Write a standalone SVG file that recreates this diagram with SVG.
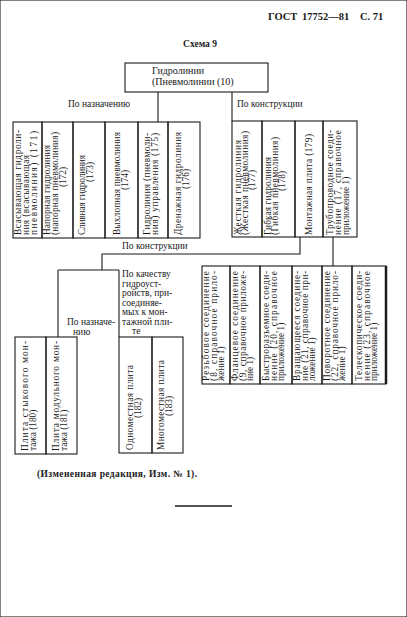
<svg xmlns="http://www.w3.org/2000/svg" width="407" height="617" viewBox="0 0 407 617">
<style>
text{font-family:"Liberation Serif","DejaVu Serif",serif;fill:#1a1a1a}
.hdr{font-size:10.5px;font-weight:bold}
.ttl{font-size:9.5px;font-weight:bold}
.lbl{font-size:9.5px}
.c{font-size:9.3px}
.m{text-anchor:middle}
rect,.ln{fill:none;stroke:#1a1a1a;stroke-width:1.1}
</style>
<rect x="0" y="0" width="407" height="617" fill="#fff" stroke="none"/>

<g id="header">
<text class="hdr" y="20"><tspan x="268">ГОСТ</tspan><tspan x="302">17752—81</tspan><tspan x="360">С. 71</tspan></text>
<text class="ttl m" x="200" y="47">Схема 9</text>
</g>

<g id="connectors">
<line class="ln" x1="158" y1="92" x2="158" y2="122"/>
<line class="ln" x1="232" y1="92" x2="232" y2="121"/>
<polyline class="ln" points="300,237 300,254 102,254 102,270"/>
<line class="ln" x1="58" y1="270" x2="119" y2="270"/>
<line class="ln" x1="58" y1="270" x2="58" y2="337"/>
<line class="ln" x1="119" y1="270" x2="119" y2="337"/>
<line class="ln" x1="333" y1="237" x2="333" y2="266"/>
<text class="lbl" x="68" y="107">По назначению</text>
<text class="lbl" x="237" y="107">По конструкции</text>
<text class="lbl" x="122" y="249">По конструкции</text>
<text class="lbl" x="67" y="325">По назначе-</text>
<text class="lbl" x="73" y="335">нию</text>
<text class="lbl" x="122"><tspan x="122" y="277">По качеству</tspan><tspan x="122" y="286.5">гидроуст-</tspan><tspan x="122" y="296">ройств, при-</tspan><tspan x="122" y="305.5">соединяе-</tspan><tspan x="122" y="315">мых  к мон-</tspan><tspan x="122" y="324.5">тажной пли-</tspan><tspan x="132" y="334">те</tspan></text>
</g>

<g id="n10">
<rect x="125" y="63" width="143" height="29"/>
<text class="lbl" x="152" y="74" style="font-size:10px">Гидролинии</text>
<text class="lbl" x="152" y="85" style="font-size:10px">(Пневмолинии  (10)</text>
</g>

<g id="n171">
<rect x="13" y="122" width="29" height="116"/>
<text class="c" transform="translate(21,235) rotate(-90)" textLength="105" lengthAdjust="spacing">Всасывающая гидроли-</text>
<text class="c" transform="translate(29,235) rotate(-90)" textLength="80" lengthAdjust="spacing">ния (всасывающая</text>
<text class="c" transform="translate(37,235) rotate(-90)" textLength="104" lengthAdjust="spacing">пневмолиния) (171)</text>
</g>
<g id="n172">
<rect x="42" y="122" width="31" height="116"/>
<text class="c" transform="translate(50,235) rotate(-90)" textLength="90" lengthAdjust="spacing">Напорная гидролиния</text>
<text class="c" transform="translate(58,235) rotate(-90)" textLength="103" lengthAdjust="spacing">(напорная пневмолиния)</text>
<text class="c m" transform="translate(66,177) rotate(-90)">(172)</text>
</g>
<g id="n173">
<rect x="73" y="122" width="32" height="116"/>
<text class="c" transform="translate(85,235) rotate(-90)" textLength="80" lengthAdjust="spacing">Сливная гидролиния</text>
<text class="c m" transform="translate(93,172) rotate(-90)">(173)</text>
</g>
<g id="n174">
<rect x="105" y="122" width="33" height="116"/>
<text class="c" transform="translate(120,235) rotate(-90)" textLength="103" lengthAdjust="spacing">Выхлопная пневмолиния</text>
<text class="c m" transform="translate(128,180) rotate(-90)">(174)</text>
</g>
<g id="n175">
<rect x="138" y="122" width="30" height="116"/>
<text class="c" transform="translate(150,235) rotate(-90)" textLength="102" lengthAdjust="spacing">Гидролиния  (пневмоли-</text>
<text class="c" transform="translate(158,235) rotate(-90)" textLength="102" lengthAdjust="spacing">ния) управления (175)</text>
</g>
<g id="n176">
<rect x="168" y="122" width="32" height="116"/>
<text class="c" transform="translate(181,235) rotate(-90)" textLength="103" lengthAdjust="spacing">Дренажная гидролиния</text>
<text class="c m" transform="translate(189,179) rotate(-90)">(176)</text>
</g>

<g id="n177">
<rect x="232" y="121" width="30" height="116"/>
<text class="c" transform="translate(241,235) rotate(-90)" textLength="95" lengthAdjust="spacing">Жесткая гидролиния</text>
<text class="c" transform="translate(248,235) rotate(-90)" textLength="104" lengthAdjust="spacing">(Жесткая пневмолиния)</text>
<text class="c m" transform="translate(255,180) rotate(-90)">(177)</text>
</g>
<g id="n178">
<rect x="262" y="121" width="33" height="116"/>
<text class="c" transform="translate(271,235) rotate(-90)" textLength="78" lengthAdjust="spacing">Гибкая гидролиния</text>
<text class="c" transform="translate(278,235) rotate(-90)" textLength="98" lengthAdjust="spacing">(Гибкая пневмолиния)</text>
<text class="c m" transform="translate(285,181) rotate(-90)">(178)</text>
</g>
<g id="n179">
<rect x="295" y="121" width="28" height="116"/>
<text class="c" transform="translate(312,235) rotate(-90)" textLength="101" lengthAdjust="spacing">Монтажная плита  (179)</text>
</g>
<g id="n17">
<rect x="323" y="121" width="34" height="116"/>
<text class="c" transform="translate(333,235) rotate(-90)" textLength="105" lengthAdjust="spacing">Трубопроводное соеди-</text>
<text class="c" transform="translate(341,235) rotate(-90)" textLength="105" lengthAdjust="spacing">нение (17, справочное</text>
<text class="c" transform="translate(349,235) rotate(-90)">приложение 1)</text>
</g>

<g id="n8">
<rect x="202" y="266" width="28" height="118"/>
<text class="c" transform="translate(209,381) rotate(-90)" textLength="110" lengthAdjust="spacing">Резьбовое соединение</text>
<text class="c" transform="translate(216.5,381) rotate(-90)" textLength="110" lengthAdjust="spacing">(8, справочное прило-</text>
<text class="c" transform="translate(224,381) rotate(-90)">жение 1)</text>
</g>
<g id="n9">
<rect x="230" y="266" width="30" height="118"/>
<text class="c" transform="translate(238,381) rotate(-90)" textLength="110" lengthAdjust="spacing">Фланцевое соединение</text>
<text class="c" transform="translate(245.5,381) rotate(-90)" textLength="110" lengthAdjust="spacing">(9, справочное приложе-</text>
<text class="c" transform="translate(253,381) rotate(-90)">ние 1)</text>
</g>
<g id="n20">
<rect x="260" y="266" width="32" height="118"/>
<text class="c" transform="translate(269,381) rotate(-90)" textLength="110" lengthAdjust="spacing">Быстроразъемное соеди-</text>
<text class="c" transform="translate(276.5,381) rotate(-90)" textLength="110" lengthAdjust="spacing">нение (20, справочное</text>
<text class="c" transform="translate(284,381) rotate(-90)">приложение 1)</text>
</g>
<g id="n21">
<rect x="292" y="266" width="30" height="118"/>
<text class="c" transform="translate(300,381) rotate(-90)" textLength="110" lengthAdjust="spacing">Вращающееся соедине-</text>
<text class="c" transform="translate(307.5,381) rotate(-90)" textLength="110" lengthAdjust="spacing">ние (21, справочное при-</text>
<text class="c" transform="translate(315,381) rotate(-90)">ложение 1)</text>
</g>
<g id="n22">
<rect x="322" y="266" width="30" height="118"/>
<text class="c" transform="translate(330,381) rotate(-90)" textLength="110" lengthAdjust="spacing">Поворотное соединение</text>
<text class="c" transform="translate(337.5,381) rotate(-90)" textLength="110" lengthAdjust="spacing">(22, справочное прило-</text>
<text class="c" transform="translate(345,381) rotate(-90)">жение 1)</text>
</g>
<g id="n23">
<rect x="352" y="266" width="34" height="118"/>
<line class="ln" x1="386" y1="266" x2="386" y2="384" style="stroke-width:2.5"/>
<text class="c" transform="translate(362,381) rotate(-90)" textLength="110" lengthAdjust="spacing">Телескопическое соеди-</text>
<text class="c" transform="translate(369.5,381) rotate(-90)" textLength="110" lengthAdjust="spacing">нение (23, справочное</text>
<text class="c" transform="translate(377,381) rotate(-90)">приложение 1)</text>
</g>

<g id="n180">
<rect x="15" y="337" width="31" height="117"/>
<text class="c" transform="translate(28,451) rotate(-90)" textLength="110" lengthAdjust="spacing">Плита стыкового мон-</text>
<text class="c" transform="translate(36,451) rotate(-90)">тажа (180)</text>
</g>
<g id="n181">
<rect x="46" y="337" width="31" height="117"/>
<text class="c" transform="translate(59,451) rotate(-90)" textLength="110" lengthAdjust="spacing">Плита модульного мон-</text>
<text class="c" transform="translate(67,451) rotate(-90)">тажа (181)</text>
</g>
<g id="n182">
<rect x="119" y="337" width="33" height="116"/>
<text class="c" transform="translate(133,450) rotate(-90)" textLength="85" lengthAdjust="spacing">Одноместная плита</text>
<text class="c m" transform="translate(141,408) rotate(-90)">(182)</text>
</g>
<g id="n183">
<rect x="152" y="337" width="31" height="116"/>
<text class="c" transform="translate(164,450) rotate(-90)" textLength="90" lengthAdjust="spacing">Многоместная плита</text>
<text class="c m" transform="translate(172,406) rotate(-90)">(183)</text>
</g>

<g id="footer">
<text class="ttl" x="37" y="477" textLength="160" lengthAdjust="spacing">(Измененная редакция, Изм. № 1).</text>
<line class="ln" x1="175" y1="506" x2="232" y2="506" style="stroke-width:1.5"/>
</g>
</svg>
